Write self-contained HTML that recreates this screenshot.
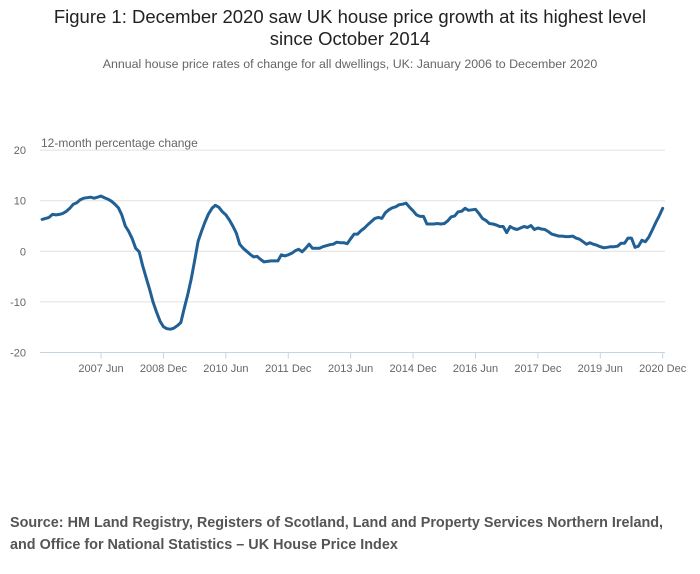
<!DOCTYPE html>
<html><head><meta charset="utf-8">
<style>
body{margin:0;background:#fff;width:700px;height:574px;overflow:hidden;font-family:"Liberation Sans",sans-serif;}
.title{position:absolute;left:0;width:700px;top:6px;text-align:center;font-size:18.5px;line-height:22px;color:#222;}
.sub{position:absolute;left:0;width:700px;top:57px;text-align:center;font-size:12.4px;color:#666;}
.src{position:absolute;left:10px;top:512px;font-size:14.4px;line-height:22px;font-weight:bold;color:#555;white-space:nowrap;}
svg{position:absolute;left:0;top:0;}
</style></head>
<body>
<div class="title">Figure 1: December 2020 saw UK house price growth at its highest level<br>since October 2014</div>
<div class="sub">Annual house price rates of change for all dwellings, UK: January 2006 to December 2020</div>
<svg id="chart" width="700" height="574"></svg>
<div class="src">Source: HM Land Registry, Registers of Scotland, Land and Property Services Northern Ireland,<br>and Office for National Statistics – UK House Price Index</div>
<script>
const yTicks=[20,10,0,-10,-20];
const xTickLabels=["2007 Jun","2008 Dec","2010 Jun","2011 Dec","2013 Jun","2014 Dec","2016 Jun","2017 Dec","2019 Jun","2020 Dec"];
const xTickIndex=[17,35,53,71,89,107,125,143,161,179];
const values2006=[6.3,6.5,6.7,7.3,7.2,7.3,7.5,7.9,8.5,9.3,9.6,10.2];
const values2007=[10.5,10.6,10.7,10.5,10.7,10.9,10.6,10.3,9.9,9.3,8.6,7.2];
const values2008=[5.0,3.9,2.5,0.6,-0.1,-2.8,-5.2,-7.5,-10,-12,-13.8,-14.9];
const values2009=[-15.3,-15.4,-15.2,-14.7,-14.1,-11.3,-8.6,-5.5,-1.9,2.0,4.0,5.8];
const values2010=[7.4,8.5,9.1,8.7,7.8,7.2,6.2,5.0,3.6,1.4,0.6,0.0];
const values2011=[-0.6,-1.1,-1.0,-1.6,-2.1,-2.0,-1.9,-1.9,-1.9,-0.7,-0.9,-0.7];
const values2012=[-0.4,0.1,0.4,-0.1,0.6,1.4,0.6,0.6,0.6,0.9,1.1,1.3];
const values2013=[1.4,1.8,1.7,1.7,1.5,2.5,3.4,3.4,4.1,4.6,5.3,5.9];
const values2014=[6.5,6.7,6.5,7.6,8.2,8.6,8.8,9.2,9.3,9.5,8.7,8.0];
const values2015=[7.2,6.9,6.9,5.4,5.4,5.4,5.5,5.4,5.5,6.0,6.8,7.0];
const values2016=[7.8,7.9,8.5,8.1,8.2,8.3,7.5,6.5,6.1,5.5,5.4,5.2];
const values2017=[4.9,4.9,3.7,4.9,4.5,4.3,4.6,4.9,4.7,5.1,4.3,4.6];
const values2018=[4.4,4.3,3.9,3.4,3.2,3.0,3.0,2.9,2.9,3.0,2.6,2.4];
const values2019=[1.9,1.4,1.7,1.4,1.2,0.9,0.7,0.8,0.9,0.9,1.0,1.6];
const values2020=[1.6,2.6,2.6,0.8,1.0,2.2,1.9,2.8,4.2,5.7,7.0,8.5];
const values=[].concat(values2006,values2007,values2008,values2009,values2010,values2011,values2012,values2013,values2014,values2015,values2016,values2017,values2018,values2019,values2020);

const NS="http://www.w3.org/2000/svg";
const svg=document.getElementById('chart');
const x0=42.1,xStep=3.467,yZero=251.3,yUnit=5.06;
function xs(i){return x0+i*xStep;}
function ys(v){return yZero-v*yUnit;}
function mk(tag,attrs){const e=document.createElementNS(NS,tag);for(const k in attrs)e.setAttribute(k,attrs[k]);svg.appendChild(e);return e;}

yTicks.forEach(t=>{
  if(t!==-20){const g=mk('line',{x1:40,x2:665,y1:ys(t),y2:ys(t),stroke:'#e0e0e0','stroke-width':1});
  
  }
  const l=mk('text',{x:26,y:ys(t)+4,'text-anchor':'end','font-size':11,fill:'#666','font-family':'Liberation Sans, sans-serif'});
  l.textContent=t;
  
  
});
const ax=mk('line',{x1:40,x2:665,y1:ys(-20),y2:ys(-20),stroke:'#c6d3e4','stroke-width':1});


xTickIndex.forEach((idx,k)=>{
  const tk=mk('line',{x1:xs(idx),x2:xs(idx),y1:ys(-20),y2:ys(-20)+6,stroke:'#c6d3e4','stroke-width':1});
  
  
  const l=mk('text',{x:xs(idx),y:372,'text-anchor':'middle','font-size':11,fill:'#666','font-family':'Liberation Sans, sans-serif'});
  l.textContent=xTickLabels[k];
  
  
});
const yt=mk('text',{x:41,y:147,'font-size':12,fill:'#666','font-family':'Liberation Sans, sans-serif'});
yt.textContent='12-month percentage change';


const d=values.map((v,i)=>(i?'L':'M')+xs(i).toFixed(1)+' '+ys(v).toFixed(1)).join(' ');
const p=mk('path',{d:d,fill:'none',stroke:'#206095','stroke-width':3,'stroke-linejoin':'round','stroke-linecap':'round'});


</script>
</body></html>
